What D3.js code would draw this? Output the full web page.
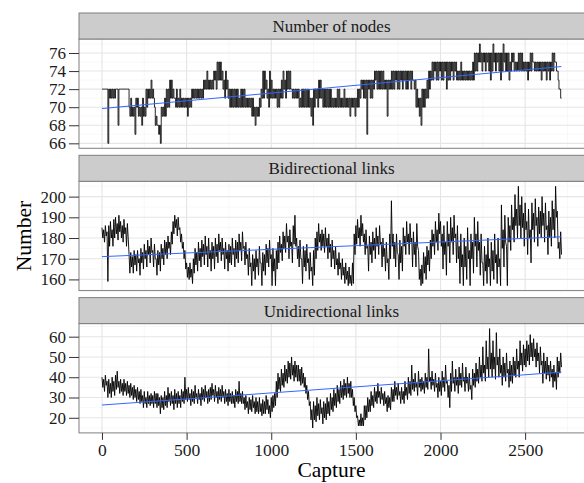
<!DOCTYPE html>
<html>
<head>
<meta charset="utf-8">
<script src="https://cdn.jsdelivr.net/npm/d3@7/dist/d3.min.js"></script>
<style>
  body { margin: 0; background: #fff; }
  svg { display: block; }
  text { font-family: "Liberation Serif", "Times New Roman", serif; }
</style>
</head>
<body>
<div id="chart"></div>
<script>

// The series swing fast, so for every block of 10 captures the top and the
// bottom of the trace were read off the picture. Tops sit at the start of a
// block, bottoms half way through it.
var captureStep = 10;

var nodesTop = [
  72,72,72,72,72,72,72,72,72,72, 72,72,72,72,72,72,70,71,70,70,
  71,71,70,70,71,70,72,72,72,73, 72,70,69,68,68,70,70,71,72,72,
  73,73,72,71,72,71,72,71,71,71, 71,71,71,72,72,72,72,72,72,72,
  73,73,74,73,73,73,74,74,75,75, 75,74,73,74,73,72,72,72,72,72,
  72,71,72,72,72,71,71,71,71,71, 70,70,70,71,72,74,74,73,72,74,
  73,72,72,72,72,72,73,74,73,74, 74,74,72,72,72,72,72,71,72,72,
  72,72,72,71,71,72,72,72,73,73, 72,72,72,72,72,72,71,71,71,72,
  72,71,71,72,71,71,71,71,71,71, 71,72,72,73,73,73,73,73,73,73,
  73,74,74,74,74,74,74,73,73,73, 73,74,74,74,74,74,74,74,74,74,
  74,74,74,74,73,73,72,71,71,72, 72,72,73,74,74,75,75,75,75,75,
  75,75,75,75,75,75,75,75,75,75, 74,74,75,74,74,74,74,74,74,75,
  76,76,76,77,76,76,76,76,76,76, 76,77,76,76,76,76,76,77,76,76,
  76,75,76,76,75,75,76,76,76,75, 75,75,75,76,76,75,75,75,75,75,
  75,75,75,75,75,75,76,76,75,74, 72,71
];
var nodesBottom = [
  72,72,72,66,71,71,71,71,72,68, 72,72,72,72,72,72,69,69,69,67,
  70,69,69,68,69,69,70,71,71,71, 71,68,68,67,66,69,69,69,70,70,
  71,71,71,70,70,70,70,70,70,70, 69,70,70,71,71,71,71,71,71,71,
  72,72,72,72,72,72,73,72,73,73, 73,72,71,72,71,70,70,70,70,70,
  70,70,70,70,70,70,70,70,69,69, 68,69,69,70,71,71,72,71,70,71,
  71,71,71,70,70,71,71,72,71,72, 72,72,71,71,71,71,70,70,70,70,
  70,70,70,69,68,70,71,70,71,71, 70,70,70,70,70,70,70,70,70,70,
  70,70,70,70,70,70,69,70,70,69, 70,70,71,72,71,71,67,72,71,71,
  72,73,72,72,72,72,72,72,69,72, 72,72,72,73,72,72,73,72,73,72,
  72,73,72,73,72,70,70,69,68,70, 70,71,71,72,73,73,74,73,73,74,
  73,73,74,72,73,73,74,73,74,73, 73,73,73,73,73,73,73,73,73,73,
  74,74,75,75,74,75,74,75,74,73, 74,75,74,75,74,73,74,75,74,74,
  73,74,75,74,74,74,74,74,74,74, 74,73,74,74,75,74,74,74,74,73,
  74,74,73,74,73,74,74,75,74,73, 72,71
];

var bidirectionalTop = [
  185,184,186,183,186,188,184,189,190,187, 191,188,186,189,185,187,172,173,171,174,
  172,174,170,175,173,177,174,179,176,180, 174,177,170,174,173,177,175,179,178,181,
  178,183,188,191,189,190,185,182,178,174, 168,166,168,165,170,175,173,178,175,179,
  177,181,176,180,174,178,176,180,177,182, 178,180,175,178,174,177,176,180,175,179,
  178,182,178,183,176,178,172,175,168,172, 170,174,170,176,168,173,172,177,175,179,
  172,175,170,174,178,181,177,183,181,187, 181,184,178,186,191,180,176,179,170,176,
  174,177,170,173,166,174,180,183,187,182, 184,182,185,180,182,177,179,174,176,170,
  173,168,170,166,168,164,166,162,168,182, 186,189,185,191,187,182,184,176,181,178,
  183,180,185,181,186,178,180,175,178,170, 182,198,182,178,182,172,179,176,185,181,
  188,182,187,180,183,178,187,174,165,167, 173,171,176,174,179,184,182,188,184,192,
  188,182,186,178,188,182,190,185,191,182, 186,176,182,172,180,176,185,174,182,178,
  190,182,188,178,182,168,176,172,180,170, 178,174,182,172,180,170,196,184,191,176,
  190,186,196,190,201,194,205,196,200,192, 197,188,194,184,197,192,199,190,195,193,
  200,192,197,186,193,190,198,194,205,193, 178,183
];
var bidirectionalBottom = [
  180,178,181,159,176,180,176,180,182,179, 183,180,178,182,176,180,163,166,163,167,
  164,168,162,168,165,170,166,172,168,173, 166,170,162,167,164,170,167,172,170,175,
  172,177,182,185,181,184,178,175,170,165, 161,160,161,158,163,167,164,169,166,171,
  167,172,166,170,164,170,165,171,168,174, 169,172,165,170,164,168,167,172,166,170,
  168,174,169,175,167,170,162,166,157,164, 160,166,162,168,157,164,162,168,166,170,
  157,164,157,165,168,173,169,175,173,178, 170,176,168,177,176,170,166,170,158,166,
  164,168,160,164,157,162,170,174,178,174, 176,173,176,170,173,166,170,165,167,162,
  165,160,162,158,160,157,158,157,158,172, 177,180,176,181,178,172,175,164,172,168,
  174,170,176,172,177,166,171,164,168,160, 170,176,170,166,173,160,168,164,176,172,
  178,172,178,166,172,166,176,160,157,158, 163,160,167,164,170,176,172,178,174,182,
  176,165,172,162,176,168,178,172,180,168, 170,158,166,157,166,160,170,157,170,163,
  176,166,174,162,168,157,164,158,166,157, 164,160,168,158,166,157,175,166,178,157,
  178,174,184,178,186,180,186,180,185,176, 184,172,180,168,184,178,186,176,182,180,
  186,178,184,172,180,176,184,180,190,175, 170,172
];

var unidirectionalTop = [
  40,39,41,38,39,37,40,38,41,43, 38,39,37,39,37,38,36,37,35,36,
  34,35,33,34,31,33,30,33,31,32, 31,33,32,32,30,31,30,33,31,35,
  32,33,31,34,32,33,31,34,33,40, 34,35,32,34,33,36,32,34,32,35,
  34,36,33,34,35,37,34,36,33,35, 34,36,33,34,32,34,32,33,31,34,
  33,38,32,33,30,31,28,30,29,31, 28,30,28,30,27,29,28,31,29,26,
  30,31,32,38,42,40,44,42,46,44, 48,47,50,46,48,46,46,44,45,42,
  40,36,33,28,24,28,26,30,27,29, 25,28,27,30,28,32,30,34,32,36,
  34,38,36,39,37,40,37,38,34,30, 26,21,19,22,20,26,26,30,29,33,
  31,35,33,37,33,35,32,33,30,31, 30,35,34,38,35,37,33,35,33,38,
  35,40,38,46,39,42,37,43,39,40, 38,42,40,54,40,43,39,42,37,40,
  38,43,40,46,38,36,42,48,40,44, 40,45,42,47,40,45,40,42,36,44,
  42,47,44,50,46,55,46,58,50,64, 52,58,50,62,50,54,46,50,47,52,
  44,48,46,50,48,54,48,58,52,56, 54,58,56,61,57,59,54,57,52,55,
  48,52,48,50,46,48,44,46,42,50, 48,52
];
var unidirectionalBottom = [
  35,33,36,30,32,30,33,31,34,35, 32,33,31,33,31,32,30,31,29,30,
  28,29,27,28,25,27,25,27,26,27, 25,27,25,26,22,25,24,26,25,28,
  26,27,24,27,25,27,25,28,27,29, 28,29,26,28,27,30,27,29,26,29,
  28,30,27,28,29,31,28,30,27,29, 28,30,27,28,26,28,27,27,25,28,
  27,28,27,27,24,25,22,24,23,25, 22,23,22,23,21,22,22,24,22,20,
  23,25,26,30,34,33,36,35,38,37, 40,39,41,38,40,38,38,36,37,35,
  32,29,26,19,15,19,18,21,19,22, 17,20,19,22,21,24,23,26,25,28,
  27,30,29,31,30,32,30,30,26,23, 20,16,16,16,16,19,20,23,23,26,
  25,28,27,30,27,29,26,27,23,25, 24,28,28,31,29,31,27,29,27,31,
  29,32,31,34,33,35,31,35,33,34, 32,35,34,38,34,36,33,35,30,33,
  31,35,33,37,30,25,33,37,33,36, 32,36,35,38,33,37,33,34,29,36,
  35,38,37,40,38,42,38,44,40,44, 40,44,39,46,40,42,36,40,38,42,
  35,38,37,41,40,44,40,46,43,46, 45,48,46,50,48,50,45,48,42,46,
  37,42,39,41,38,40,35,38,34,40, 42,45
];

// linear fit (blue line), end points
var trendCaptures = [0, 2714];
var trendNodes = [69.85, 74.5];
var trendBidirectional = [171.0, 180.6];
var trendUnidirectional = [26.3, 42.5];

var facetTitles = ["Number of nodes", "Bidirectional links", "Unidirectional links"];
var nodeTicks = [66, 68, 70, 72, 74, 76];
var bidirectionalTicks = [160, 170, 180, 190, 200];
var unidirectionalTicks = [20, 30, 40, 50, 60];
var captureTicks = [0, 500, 1000, 1500, 2000, 2500];

var width = 584, height = 483;
var panelLeft = 79, panelRight = 584.5;
var firstStrip = 13, panelStride = 142.3, stripHeight = 26, plotHeight = 109.3;

// top, bottom, top, bottom ... in capture order
function trace(tops, bottoms) {
    var out = [];
    tops.forEach(function(t, k) {
        out.push({capture: k * captureStep, value: t});
        out.push({capture: k * captureStep + captureStep / 2, value: bottoms[k]});
    });
    return out;
}

var nodesTrace = trace(nodesTop, nodesBottom);
var bidirectionalTrace = trace(bidirectionalTop, bidirectionalBottom);
var unidirectionalTrace = trace(unidirectionalTop, unidirectionalBottom);

var svg = d3.select("#chart").append("svg")
    .attr("width", width)
    .attr("height", height);

var capExt = d3.extent(nodesTrace, function(d) { return d.capture; });
var xPad = (capExt[1] - capExt[0]) * 0.05;
var x = d3.scaleLinear()
    .domain([capExt[0] - xPad, capExt[1] + xPad])
    .range([panelLeft, panelRight]);

// minor breaks sit half way between the major ones
function minorBreaks(ticks, lo, hi) {
    var step = ticks[1] - ticks[0];
    var out = [];
    for (var v = ticks[0] - step / 2; v <= hi; v += step) {
        if (v >= lo) out.push(v);
    }
    return out;
}

function drawPanel(i, title, data, trend, ticks, curve, lineWidth, showX) {
    var stripTop = firstStrip + i * panelStride;
    var top = stripTop + stripHeight;
    var bottom = top + plotHeight;

    var ext = d3.extent(data, function(d) { return d.value; });
    var pad = (ext[1] - ext[0]) * 0.05;
    var y = d3.scaleLinear()
        .domain([ext[0] - pad, ext[1] + pad])
        .range([bottom, top]);

    var g = svg.append("g");

    // panel background
    g.append("rect")
        .attr("x", panelLeft).attr("y", top)
        .attr("width", panelRight - panelLeft).attr("height", plotHeight)
        .attr("fill", "#fff");

    // grid
    var xd = x.domain();
    var yd = y.domain();
    g.selectAll(".vminor").data(minorBreaks(captureTicks, xd[0], xd[1]))
      .enter().append("line")
        .attr("x1", function(d) { return x(d); }).attr("x2", function(d) { return x(d); })
        .attr("y1", top).attr("y2", bottom)
        .attr("stroke", "#f3f3f3").attr("stroke-width", 0.6);
    g.selectAll(".hminor").data(minorBreaks(ticks, yd[0], yd[1]))
      .enter().append("line")
        .attr("x1", panelLeft).attr("x2", panelRight)
        .attr("y1", function(d) { return y(d); }).attr("y2", function(d) { return y(d); })
        .attr("stroke", "#f3f3f3").attr("stroke-width", 0.6);
    g.selectAll(".vmajor").data(captureTicks)
      .enter().append("line")
        .attr("x1", function(d) { return x(d); }).attr("x2", function(d) { return x(d); })
        .attr("y1", top).attr("y2", bottom)
        .attr("stroke", "#e5e5e5").attr("stroke-width", 1.1);
    g.selectAll(".hmajor").data(ticks)
      .enter().append("line")
        .attr("x1", panelLeft).attr("x2", panelRight)
        .attr("y1", function(d) { return y(d); }).attr("y2", function(d) { return y(d); })
        .attr("stroke", "#e5e5e5").attr("stroke-width", 1.1);

    // the series
    var line = d3.line()
        .curve(curve)
        .x(function(d) { return x(d.capture); })
        .y(function(d) { return y(d.value); });
    g.append("path")
        .datum(data)
        .attr("fill", "none")
        .attr("stroke", "#000")
        .attr("stroke-width", lineWidth)
        .attr("d", line);

    // smoother
    g.append("path")
        .datum(trend)
        .attr("fill", "none")
        .attr("stroke", "#3366FF")
        .attr("stroke-width", 1)
        .attr("d", d3.line()
            .x(function(d, k) { return x(trendCaptures[k]); })
            .y(function(d) { return y(d); }));

    // border
    g.append("rect")
        .attr("x", panelLeft).attr("y", top)
        .attr("width", panelRight - panelLeft).attr("height", plotHeight)
        .attr("fill", "none").attr("stroke", "#7f7f7f").attr("stroke-width", 1);

    // strip
    g.append("rect")
        .attr("x", panelLeft).attr("y", stripTop)
        .attr("width", panelRight - panelLeft).attr("height", stripHeight)
        .attr("fill", "#cccccc").attr("stroke", "#7f7f7f").attr("stroke-width", 1);
    g.append("text")
        .attr("x", (panelLeft + 584) / 2)
        .attr("y", stripTop + stripHeight / 2)
        .attr("dy", "0.35em")
        .attr("text-anchor", "middle")
        .attr("font-size", 17)
        .attr("fill", "#1a1a1a")
        .text(title);

    // y axis
    var yAxis = svg.append("g")
        .attr("transform", "translate(" + panelLeft + ",0)")
        .call(d3.axisLeft(y).tickValues(ticks).tickSize(10).tickPadding(3));
    yAxis.select(".domain").remove();
    yAxis.selectAll("line").attr("stroke", "#333");
    yAxis.selectAll("text")
        .attr("font-size", 17)
        .attr("font-family", "Liberation Serif, serif")
        .attr("fill", "#1a1a1a");

    if (showX) {
        var xAxis = svg.append("g")
            .attr("transform", "translate(0," + bottom + ")")
            .call(d3.axisBottom(x).tickValues(captureTicks).tickFormat(d3.format("d"))
                .tickSize(7).tickPadding(4));
        xAxis.select(".domain").remove();
        xAxis.selectAll("line").attr("stroke", "#333");
        xAxis.selectAll("text")
            .attr("font-size", 17.5)
            .attr("font-family", "Liberation Serif, serif")
            .attr("fill", "#1a1a1a");
    }
}

drawPanel(0, facetTitles[0], nodesTrace, trendNodes, nodeTicks, d3.curveStepAfter, 0.85, false);
drawPanel(1, facetTitles[1], bidirectionalTrace, trendBidirectional, bidirectionalTicks, d3.curveLinear, 0.9, false);
drawPanel(2, facetTitles[2], unidirectionalTrace, trendUnidirectional, unidirectionalTicks, d3.curveLinear, 0.9, true);

// axis titles
svg.append("text")
    .attr("x", (panelLeft + 584) / 2)
    .attr("y", 477)
    .attr("text-anchor", "middle")
    .attr("font-size", 21.5)
    .attr("fill", "#000")
    .text("Capture");

svg.append("text")
    .attr("transform", "translate(31,236) rotate(-90)")
    .attr("text-anchor", "middle")
    .attr("font-size", 21.5)
    .attr("fill", "#000")
    .text("Number");

</script>
</body>
</html>
